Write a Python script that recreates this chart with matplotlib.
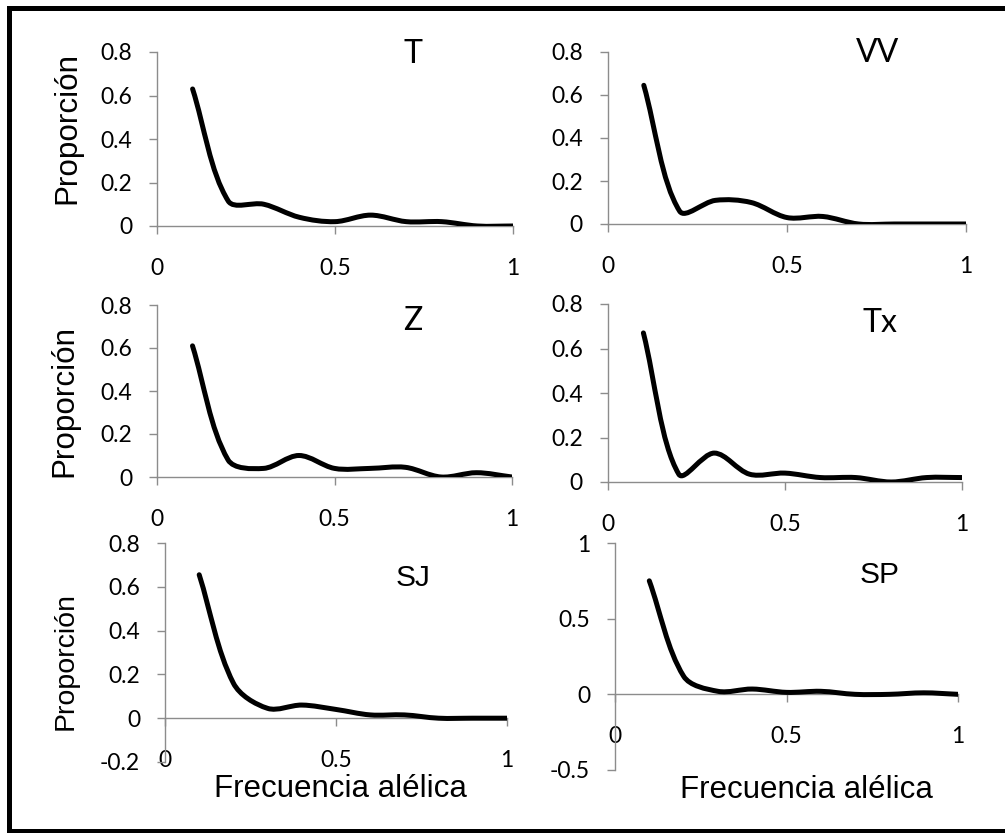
import numpy as np
import matplotlib as mpl
mpl.use('Agg')
import matplotlib.pyplot as plt
from matplotlib.path import Path
from matplotlib.patches import PathPatch
from matplotlib.lines import Line2D

# allele frequency classes and proportion of loci per population
freq = [0.1, 0.2, 0.3, 0.4, 0.5, 0.6, 0.7, 0.8, 0.9, 1.0]
prop_T = [0.63, 0.115, 0.10, 0.04, 0.02, 0.05, 0.02, 0.02, 0.0, 0.0]
prop_VV = [0.645, 0.06, 0.11, 0.10, 0.03, 0.035, 0.0, 0.0, 0.0, 0.0]
prop_Z = [0.61, 0.08, 0.04, 0.10, 0.04, 0.04, 0.045, 0.0, 0.02, 0.0]
prop_Tx = [0.67, 0.035, 0.13, 0.035, 0.04, 0.02, 0.02, 0.0, 0.02, 0.02]
prop_SJ = [0.655, 0.16, 0.045, 0.06, 0.04, 0.015, 0.015, 0.0, 0.0, 0.0]
prop_SP = [0.75, 0.12, 0.02, 0.035, 0.013, 0.02, 0.0, 0.0, 0.01, 0.0]

pops = ["T", "VV", "Z", "Tx", "SJ", "SP"]
series = [prop_T, prop_VV, prop_Z, prop_Tx, prop_SJ, prop_SP]

yticks_std = [0, 0.2, 0.4, 0.6, 0.8]
ylabels_std = ["0", "0.2", "0.4", "0.6", "0.8"]
yticks_SJ = [-0.2, 0, 0.2, 0.4, 0.6, 0.8]
ylabels_SJ = ["-0.2", "0", "0.2", "0.4", "0.6", "0.8"]
yticks_SP = [-0.5, 0, 0.5, 1]
ylabels_SP = ["-0.5", "0", "0.5", "1"]
xticks = [0, 0.5, 1]
xlabels = ["0", "0.5", "1"]

W, H = 1005, 833
fig = plt.figure(figsize=(W / 100, H / 100), dpi=100)

AXCOL = "#8c8c8c"
TICKFONT = "Lato"
ARIAL = "Liberation Sans"


def px_axes(x0, x1, ybot, ytop):
    return [x0 / W, 1 - ybot / H, (x1 - x0) / W, (ybot - ytop) / H]


def smooth_path(ax, x, y):
    # spreadsheet-style smoothed line: cubic bezier through every point,
    # tangents weighted by on-screen segment lengths to limit overshoot
    pts = np.column_stack([x, y]).astype(float)
    scr = ax.transData.transform(pts)
    n = len(pts)

    def dist(i, j):
        i = min(max(i, 0), n - 1)
        j = min(max(j, 0), n - 1)
        return np.hypot(*(scr[j] - scr[i]))

    verts = [pts[0]]
    codes = [Path.MOVETO]
    for i in range(n - 1):
        p_prev = pts[i - 1] if i > 0 else pts[i]
        p_next = pts[i + 2] if i + 2 < n else pts[i + 1]
        d01, d12, d23 = dist(i - 1, i), dist(i, i + 1), dist(i + 1, i + 2)
        f1 = d12 / (d01 + d12) / 3 if d01 + d12 > 0 else 0
        f2 = d12 / (d12 + d23) / 3 if d12 + d23 > 0 else 0
        c1 = pts[i] + (pts[i + 1] - p_prev) * f1
        c2 = pts[i + 1] - (p_next - pts[i]) * f2
        verts += [c1, c2, pts[i + 1]]
        codes += [Path.CURVE4] * 3
    return Path(verts, codes)


# panel geometry (pixels): x of y-axis, x of 1, y of ymin, y of ymax
layout = [
    (157, 513, 226, 52, (0, 0.8)),
    (608, 966, 224, 52, (0, 0.8)),
    (157, 512, 477, 305, (0, 0.8)),
    (608, 962, 482, 304, (0, 0.8)),
    (165, 507, 762, 543, (-0.2, 0.8)),
    (615, 958, 770, 543, (-0.5, 1.0)),
]
title_pos = [(0.719, 0.937), (0.754, 0.942), (0.721, 0.855),
             (0.768, 0.843), (0.725, 0.804), (0.77, 0.824)]

for k, (name, vals) in enumerate(zip(pops, series)):
    x0, x1, yb, yt, ylim = layout[k]
    ax = fig.add_axes(px_axes(x0, x1, yb, yt))
    ax.set_xlim(0, 1)
    ax.set_ylim(*ylim)
    ax.patch.set_visible(False)
    for s in ("top", "right"):
        ax.spines[s].set_visible(False)
    for s in ("left", "bottom"):
        ax.spines[s].set_color(AXCOL)
        ax.spines[s].set_linewidth(1.0)
    ax.spines["bottom"].set_position(("data", 0))

    if name == "SJ":
        ax.set_yticks(yticks_SJ, ylabels_SJ)
    elif name == "SP":
        ax.set_yticks(yticks_SP, ylabels_SP)
    else:
        ax.set_yticks(yticks_std, ylabels_std)
    ax.set_xticks(xticks, xlabels)
    ax.tick_params(direction="out", length=5.5, width=1.0, color=AXCOL,
                   labelsize=16.5, labelcolor="black")
    ax.tick_params(axis="x", pad=17.5)
    ax.tick_params(axis="y", pad=12.5)
    for lab in ax.get_xticklabels() + ax.get_yticklabels():
        lab.set_fontfamily(TICKFONT)

    ax.add_patch(PathPatch(smooth_path(ax, freq, vals), fill=False, lw=3.6,
                           ec="black", capstyle="round", joinstyle="round",
                           zorder=3))

    tx, ty = title_pos[k]
    tfam = ARIAL if name in ("SJ", "SP") else TICKFONT
    tsize = 21.5 if name in ("SJ", "SP") else 23
    ax.text(tx, ty, name, transform=ax.transAxes, ha="center", va="baseline",
            fontsize=tsize, family=tfam)

    if k % 2 == 0:
        size = 20.5 if name == "SJ" else 22.6
        ax.set_ylabel("Proporción", fontsize=size, family=ARIAL, va="baseline")
        ycoords = {0: (-0.230, 0.563), 2: (-0.239, 0.44), 4: (-0.269, 0.461)}
        ax.yaxis.set_label_coords(*ycoords[k])
    if k >= 4:
        ax.set_xlabel("Frecuencia alélica", fontsize=22.5, family=ARIAL,
                      va="baseline")
        xcoords = {4: (0.512, -0.160), 5: (0.557, -0.123)}
        ax.xaxis.set_label_coords(*xcoords[k])

# outer frame (open on the right side)
left, top, bottom = 9 / W, 1 - 7.5 / H, 1 - 831 / H
fig.add_artist(Line2D([1.02, left, left, 1.02], [top, top, bottom, bottom],
                      transform=fig.transFigure, color="black", lw=3.6,
                      solid_joinstyle="miter"))

fig.savefig("out.png", dpi=100)
